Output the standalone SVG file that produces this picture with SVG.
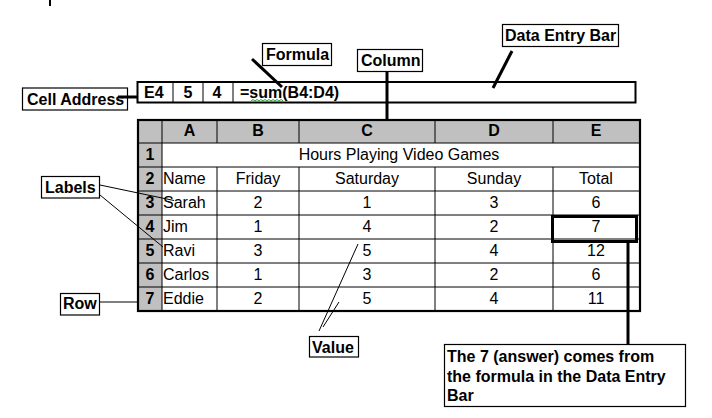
<svg xmlns="http://www.w3.org/2000/svg" width="712" height="418" viewBox="0 0 712 418">
<style>
.cl{font-family:"Liberation Sans",Arial,sans-serif;font-size:16px;font-weight:bold;fill:#000}
.tb{font-family:"Liberation Sans",Arial,sans-serif;font-size:16px;fill:#000}
.hd{font-family:"Liberation Sans",Arial,sans-serif;font-size:16px;font-weight:bold;fill:#000;text-anchor:middle}
.c{text-anchor:middle}
.fb{font-family:"Liberation Sans",Arial,sans-serif;font-size:16px;font-weight:bold;fill:#000}
.box{fill:#fff;stroke:#000;stroke-width:1.2}
.thick{stroke:#000;stroke-width:3;fill:none}
.thin{stroke:#000;stroke-width:1;fill:none}
.grid{stroke:#000;stroke-width:1;fill:none}
</style>
<rect width="712" height="418" fill="#fff"/>
<line x1="50" y1="0" x2="50" y2="6" stroke="#000" stroke-width="2"/>

<g id="formula-bar">
<rect x="137.5" y="82" width="498" height="20.5" fill="#fff" stroke="#000" stroke-width="2"/>
<line class="grid" x1="173" y1="82" x2="173" y2="102.5"/>
<line class="grid" x1="203" y1="82" x2="203" y2="102.5"/>
<line class="grid" x1="233" y1="82" x2="233" y2="102.5"/>
<text class="fb" x="144" y="98">E4</text>
<text class="fb" x="188" y="98" text-anchor="middle">5</text>
<text class="fb" x="217" y="98" text-anchor="middle">4</text>
<text class="fb" x="240" y="98">=sum(B4:D4)</text>
<path d="M251 101 l2 -1.5 l2 1.5 l2 -1.5 l2 1.5 l2 -1.5 l2 1.5 l2 -1.5 l2 1.5 l2 -1.5 l2 1.5 l2 -1.5 l2 1.5 l2 -1.5 l2 1.5 l2 -1.5 l2 1.5" fill="none" stroke="#2a9a2a" stroke-width="1"/>
</g>

<g id="table">
<rect x="138" y="120" width="502" height="23" fill="#c0c0c0"/>
<rect x="138" y="143" width="24" height="168" fill="#c0c0c0"/>
<g class="grid">
<line x1="138" y1="143" x2="640" y2="143"/>
<line x1="138" y1="167" x2="640" y2="167"/>
<line x1="138" y1="191" x2="640" y2="191"/>
<line x1="138" y1="215" x2="640" y2="215"/>
<line x1="138" y1="239" x2="640" y2="239"/>
<line x1="138" y1="263" x2="640" y2="263"/>
<line x1="138" y1="287" x2="640" y2="287"/>
<line x1="162" y1="120" x2="162" y2="311"/>
<line x1="217" y1="120" x2="217" y2="143"/>
<line x1="299" y1="120" x2="299" y2="143"/>
<line x1="435" y1="120" x2="435" y2="143"/>
<line x1="553" y1="120" x2="553" y2="143"/>
<line x1="217" y1="167" x2="217" y2="311"/>
<line x1="299" y1="167" x2="299" y2="311"/>
<line x1="435" y1="167" x2="435" y2="311"/>
<line x1="553" y1="167" x2="553" y2="311"/>
</g>
<rect x="138" y="120" width="502" height="191" fill="none" stroke="#000" stroke-width="2.2"/>
<text class="hd" x="189.5" y="136">A</text>
<text class="hd" x="258" y="136">B</text>
<text class="hd" x="367" y="136">C</text>
<text class="hd" x="494" y="136">D</text>
<text class="hd" x="596" y="136">E</text>
<text class="hd" x="150" y="160">1</text>
<text class="hd" x="150" y="184">2</text>
<text class="hd" x="150" y="208">3</text>
<text class="hd" x="150" y="232">4</text>
<text class="hd" x="150" y="256">5</text>
<text class="hd" x="150" y="280">6</text>
<text class="hd" x="150" y="304">7</text>
<text class="tb c" x="399" y="160">Hours Playing Video Games</text>
<text class="tb" x="163" y="184">Name</text>
<text class="tb c" x="258" y="184">Friday</text>
<text class="tb c" x="367" y="184">Saturday</text>
<text class="tb c" x="494" y="184">Sunday</text>
<text class="tb c" x="596" y="184">Total</text>
<text class="tb" x="163" y="208">Sarah</text>
<text class="tb c" x="258" y="208">2</text>
<text class="tb c" x="367" y="208">1</text>
<text class="tb c" x="494" y="208">3</text>
<text class="tb c" x="596" y="208">6</text>
<text class="tb" x="163" y="232">Jim</text>
<text class="tb c" x="258" y="232">1</text>
<text class="tb c" x="367" y="232">4</text>
<text class="tb c" x="494" y="232">2</text>
<text class="tb c" x="596" y="232">7</text>
<text class="tb" x="163" y="256">Ravi</text>
<text class="tb c" x="258" y="256">3</text>
<text class="tb c" x="367" y="256">5</text>
<text class="tb c" x="494" y="256">4</text>
<text class="tb c" x="596" y="256">12</text>
<text class="tb" x="163" y="280">Carlos</text>
<text class="tb c" x="258" y="280">1</text>
<text class="tb c" x="367" y="280">3</text>
<text class="tb c" x="494" y="280">2</text>
<text class="tb c" x="596" y="280">6</text>
<text class="tb" x="163" y="304">Eddie</text>
<text class="tb c" x="258" y="304">2</text>
<text class="tb c" x="367" y="304">5</text>
<text class="tb c" x="494" y="304">4</text>
<text class="tb c" x="596" y="304">11</text>
<rect x="552.5" y="216.5" width="84" height="25" fill="none" stroke="#000" stroke-width="3"/>
</g>

<g id="connectors">
<line class="thick" x1="118" y1="97" x2="137" y2="97"/>
<line class="thick" x1="252" y1="59" x2="282" y2="87"/>
<line class="thick" x1="387" y1="72" x2="387" y2="121"/>
<line class="thick" x1="512" y1="51" x2="493" y2="88"/>
<line class="thick" x1="628" y1="243" x2="628" y2="344"/>
<line class="thin" x1="100" y1="185" x2="174" y2="200.5"/>
<line class="thin" x1="100" y1="195" x2="163" y2="247"/>
<line class="thin" x1="100" y1="302" x2="137" y2="302"/>
<line class="thin" x1="358" y1="244" x2="319" y2="331"/>
<line class="thin" x1="339" y1="302" x2="323" y2="327"/>
</g>

<g id="cell-address">
<rect class="box" x="22.5" y="88" width="105" height="22"/>
<text class="cl" x="27" y="105">Cell Address</text>
</g>
<line class="thick" x1="118" y1="97" x2="128" y2="97"/>

<g id="formula">
<rect class="box" x="262.5" y="43.5" width="69" height="22"/>
<text class="cl" x="266" y="60">Formula</text>
</g>

<g id="column">
<rect class="box" x="357.5" y="49.5" width="65" height="22"/>
<text class="cl" x="361" y="66">Column</text>
</g>

<g id="data-entry-bar">
<rect class="box" x="502.5" y="24.5" width="116" height="22"/>
<text class="cl" x="505" y="41">Data Entry Bar</text>
</g>

<g id="labels">
<rect class="box" x="41.5" y="176.5" width="58" height="21.5"/>
<text class="cl" x="45" y="193">Labels</text>
</g>

<g id="row">
<rect class="box" x="60.5" y="293.5" width="39" height="21.5"/>
<text class="cl" x="63" y="309">Row</text>
</g>

<g id="value">
<rect class="box" x="309.5" y="336.5" width="49" height="20.5"/>
<text class="cl" x="312" y="353">Value</text>
</g>

<g id="answer">
<rect class="box" x="444.5" y="344.5" width="241" height="62"/>
<text class="cl" x="447" y="362">The 7 (answer) comes from</text>
<text class="cl" x="447" y="382">the formula in the Data Entry</text>
<text class="cl" x="447" y="401">Bar</text>
</g>
</svg>
